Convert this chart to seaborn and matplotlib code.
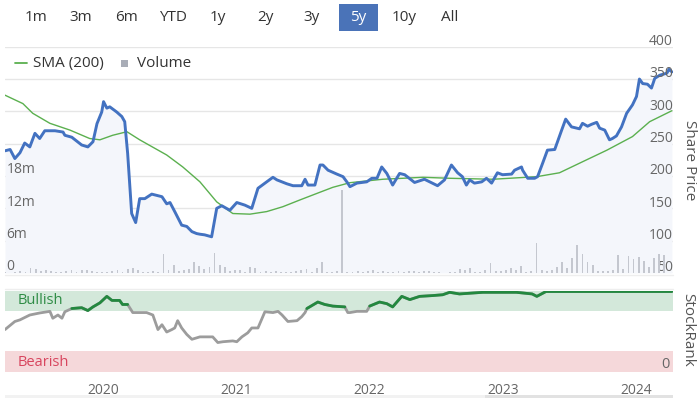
import matplotlib
matplotlib.use("Agg")
import matplotlib.pyplot as plt
import matplotlib.dates as mdates
import matplotlib.transforms as mtransforms
from matplotlib import font_manager
from matplotlib.lines import Line2D
from matplotlib.patches import Rectangle
import numpy as np
import pandas as pd
import seaborn as sns

W, H = 699, 398

range_buttons = ["1m", "3m", "6m", "YTD", "1y", "2y", "3y", "5y", "10y", "All"]
selected_button = "5y"

price_dates = [
    "2019-04-08", "2019-04-22", "2019-05-05", "2019-05-19", "2019-06-01", "2019-06-15", "2019-06-29", "2019-07-12",
    "2019-07-26", "2019-08-23", "2019-09-14", "2019-09-19", "2019-10-08", "2019-11-04", "2019-11-21", "2019-12-05",
    "2019-12-16", "2019-12-29", "2020-01-03", "2020-01-12", "2020-01-20", "2020-02-08", "2020-02-22", "2020-03-01",
    "2020-03-09", "2020-03-20", "2020-03-31", "2020-04-11", "2020-04-25", "2020-05-14", "2020-06-11", "2020-06-24",
    "2020-07-03", "2020-07-16", "2020-08-04", "2020-08-18", "2020-09-01", "2020-09-14", "2020-09-23", "2020-10-06",
    "2020-10-25", "2020-11-08", "2020-11-22", "2020-12-14", "2021-01-02", "2021-01-24", "2021-02-12", "2021-03-01",
    "2021-03-25", "2021-04-11", "2021-04-22", "2021-05-19", "2021-06-05", "2021-06-29", "2021-07-08", "2021-07-16",
    "2021-08-04", "2021-08-18", "2021-08-26", "2021-09-09", "2021-10-03", "2021-10-20", "2021-11-02", "2021-11-08",
    "2021-11-27", "2021-12-24", "2022-01-07", "2022-01-21", "2022-02-03", "2022-02-17", "2022-03-05", "2022-03-24",
    "2022-04-07", "2022-05-04", "2022-05-31", "2022-07-06", "2022-07-25", "2022-08-13", "2022-08-30", "2022-09-12",
    "2022-09-23", "2022-10-02", "2022-10-15", "2022-11-04", "2022-11-17", "2022-12-01", "2022-12-17", "2022-12-31",
    "2023-01-25", "2023-02-02", "2023-02-21", "2023-02-24", "2023-03-10", "2023-03-29", "2023-04-06", "2023-04-20",
    "2023-05-03", "2023-05-23", "2023-06-11", "2023-06-22", "2023-07-08", "2023-07-30", "2023-08-07", "2023-08-21",
    "2023-09-01", "2023-09-15", "2023-09-23", "2023-10-07", "2023-10-20", "2023-10-28", "2023-11-08", "2023-11-22",
    "2023-12-06", "2023-12-22", "2024-01-02", "2024-01-10", "2024-01-19", "2024-02-01", "2024-02-12", "2024-02-21",
    "2024-03-06", "2024-03-25", "2024-03-31", "2024-04-08",
]
price_values = [
    239, 241, 227, 236, 251, 245, 266, 258, 270, 270,
    268, 263, 260, 248, 245, 253, 281, 299, 315, 305,
    307, 299, 292, 284, 235, 142, 128, 165, 165, 172,
    168, 157, 159, 145, 124, 122, 114, 111, 110, 109,
    106, 150, 154, 147, 159, 155, 150, 181, 191, 198,
    194, 188, 185, 185, 195, 186, 186, 217, 217, 209,
    203, 199, 189, 183.5, 189, 191, 196.5, 196.5, 214, 204,
    186, 204, 202, 190, 195, 185, 194, 217, 205, 199,
    186, 194, 189, 191, 196.5, 189, 205, 202, 203, 209,
    214, 209, 196.5, 196.5, 199, 220, 240, 241, 271, 288,
    276, 273, 281.5, 277, 280, 283, 274, 271, 256, 258,
    262, 276, 297, 310, 323, 350, 343, 342, 336, 351,
    356, 359, 365, 361,
]

sma_dates = [
    "2019-04-08", "2019-05-27", "2019-06-23", "2019-08-09", "2019-10-03", "2019-11-26", "2019-12-24", "2020-01-28",
    "2020-03-07", "2020-04-11", "2020-06-24", "2020-08-07", "2020-09-23", "2020-11-08", "2020-12-22", "2021-02-07",
    "2021-03-25", "2021-05-08", "2021-06-24", "2021-08-09", "2021-09-22", "2021-11-08", "2022-02-06", "2022-05-27",
    "2022-08-08", "2022-12-05", "2023-04-04", "2023-06-05", "2023-08-07", "2023-10-13", "2023-12-22", "2024-02-07",
    "2024-04-08",
]
sma_values = [
    325, 312, 297, 281.5, 271, 258, 256, 263, 268.5, 256, 232.5, 214, 191, 160, 142, 141,
    145, 152.5, 163, 173, 182.5, 189.7, 195, 198, 196.5, 195, 199, 205, 222, 240, 261, 284, 301,
]

# fortnightly volume, millions of shares, first bar on volume_start
volume_start = "2019-04-08"
volume_values = [
    0.1, 0.0, 0.1, 0.4, 0.2, 0.9, 0.8, 0.4, 0.5, 0.3,
    0.2, 0.1, 0.4, 0.5, 0.1, 0.6, 0.5, 0.3, 0.2, 0.1,
    0.1, 0.4, 0.5, 0.1, 0.8, 0.9, 0.6, 0.1, 0.2, 0.4,
    0.1, 3.5, 0.6, 1.4, 0.3, 0.6, 0.7, 2.1, 1.3, 0.8,
    1.1, 3.8, 1.5, 1.2, 0.3, 0.6, 0.5, 0.1, 1.1, 0.9,
    0.2, 0.4, 0.1, 0.3, 0.2, 0.1, 0.2, 0.4, 0.6, 0.7,
    0.2, 1.0, 2.1, 0.1, 0.2, 0.3, 15.4, 0.2, 0.1, 0.4,
    0.2, 0.3, 0.6, 0.2, 0.3, 0.2, 0.2, 0.3, 0.2, 0.3,
    0.4, 0.2, 0.3, 0.4, 0.1, 0.2, 0.0, 0.1, 0.2, 0.8,
    0.5, 0.9, 0.1, 0.2, 0.5, 1.8, 0.4, 0.3, 0.6, 0.9,
    0.5, 1.3, 0.2, 0.3, 5.6, 0.5, 0.4, 0.6, 1.2, 2.0,
    1.0, 2.8, 5.2, 3.5, 2.0, 1.4, 0.3, 0.3, 0.4, 0.5,
    3.4, 0.7, 3.2, 2.6, 3.0, 2.2, 1.2, 2.8, 3.6, 3.4,
]

rank_dates = [
    "2019-04-08", "2019-05-05", "2019-05-19", "2019-06-15", "2019-07-12", "2019-08-09", "2019-08-17", "2019-08-31",
    "2019-09-11", "2019-09-19", "2019-10-08", "2019-11-04", "2019-11-21", "2019-12-05", "2019-12-24", "2020-01-12",
    "2020-01-26", "2020-02-16", "2020-02-24", "2020-03-09", "2020-03-23", "2020-04-11", "2020-04-30", "2020-05-17",
    "2020-05-31", "2020-06-11", "2020-06-24", "2020-07-08", "2020-07-16", "2020-07-24", "2020-08-04", "2020-08-18",
    "2020-09-01", "2020-09-23", "2020-10-28", "2020-11-11", "2020-11-25", "2020-12-22", "2021-01-02", "2021-01-16",
    "2021-02-01", "2021-02-12", "2021-03-01", "2021-03-20", "2021-04-11", "2021-04-25", "2021-05-06", "2021-05-22",
    "2021-06-16", "2021-06-29", "2021-07-08", "2021-07-13", "2021-08-12", "2021-08-31", "2021-09-22", "2021-10-25",
    "2021-11-02", "2021-11-08", "2021-11-27", "2021-12-24", "2022-01-01", "2022-01-28", "2022-02-17", "2022-03-05",
    "2022-03-30", "2022-04-21", "2022-05-18", "2022-06-23", "2022-07-20", "2022-08-08", "2022-09-04", "2022-11-07",
    "2023-02-07", "2023-03-22", "2023-04-04", "2023-04-29", "2024-04-08",
]
rank_values = [
    52, 62, 64, 70, 72.5, 74.5, 66, 70, 66, 74,
    78, 79, 75.5, 80, 85, 93, 88, 88, 83, 83,
    73, 73, 73, 70, 52, 58, 49, 52, 54, 63,
    54, 46, 40, 43, 43, 36, 37, 38, 37, 43,
    48, 54, 54, 74, 73, 74.5, 70, 62, 63, 68,
    73, 78, 86, 83, 81, 80, 73, 73, 74.5, 74.5,
    81, 86, 84, 80, 93, 89, 93, 94, 95, 98,
    96, 98, 98, 96, 93, 99, 99,
]

price_ticks = [50, 100, 150, 200, 250, 300, 350, 400]
volume_ticks = [0, 6, 12, 18]
bullish_level = 75

BLUE = "#4372c1"
GREEN_SMA = "#5bb04f"
VOL_GREY = "#c4c7cf"
GRID = "#e6e6e6"
LABEL = "#666666"


def fx(x):
    return x / W


def fy(y):
    return 1 - y / H


sns.set_style("white")
plt.rcParams["font.family"] = ["Open Sans", "DejaVu Sans"]
available = {f.name for f in font_manager.fontManager.ttflist}
narrow = "Liberation Sans Narrow" if "Liberation Sans Narrow" in available else "Open Sans"

price_dt = pd.to_datetime(price_dates)
sma_dt = pd.to_datetime(sma_dates)
rank_dt = pd.to_datetime(rank_dates)
vol_dt = pd.date_range(volume_start, periods=len(volume_values), freq="14D")
x_range = (pd.Timestamp("2019-04-08"), pd.Timestamp("2024-04-11"))

fig = plt.figure(figsize=(W / 100, H / 100), dpi=100)

# --- price panel ---
ax = fig.add_axes([fx(5), fy(273), 668 / W, (273 - 46.7) / H])
ax.set_xlim(*x_range)
ax.set_ylim(50, 400)
for v in price_ticks:
    ax.axhline(v, color=GRID, lw=1, zorder=0)
ax.fill_between(price_dt, price_values, 50, color="#f4f6fb", lw=0, zorder=1)
sns.lineplot(x=sma_dt, y=sma_values, ax=ax, color=GREEN_SMA, lw=1.0, zorder=3)
sns.lineplot(x=price_dt, y=price_values, ax=ax, color=BLUE, lw=2.1, zorder=4)
ax.set(xlabel="", ylabel="", xticks=[], yticks=[])
sns.despine(ax=ax, left=True, bottom=True)

right_tr = mtransforms.blended_transform_factory(ax.transAxes, ax.transData)
for v in price_ticks:
    ax.annotate(str(v), (1.0, v), xycoords=right_tr, xytext=(0, 1.2), textcoords="offset points",
                ha="right", va="baseline", fontsize=10, color=LABEL, zorder=6)

ax_vol = ax.twinx()
ax_vol.set_ylim(0, 42)
ax_vol.bar(vol_dt, volume_values, width=5, color=VOL_GREY, lw=0, zorder=2)
ax_vol.set_xlim(*x_range)
ax_vol.set(yticks=[], ylabel="")
sns.despine(ax=ax_vol, left=True, bottom=True, right=True)
left_tr = mtransforms.blended_transform_factory(ax_vol.transAxes, ax_vol.transData)
for v in volume_ticks:
    ax_vol.annotate("0" if v == 0 else f"{v}m", (0.0, v), xycoords=left_tr, xytext=(1, 2),
                    textcoords="offset points", ha="left", va="baseline", fontsize=10, color=LABEL)

fig.text(fx(690), fy(160), "Share Price", rotation=270, ha="center", va="center", fontsize=11, color="#555555")

# --- stockrank panel ---
ax_r = fig.add_axes([fx(5), fy(371.7), 668 / W, 81 / H])
ax_r.set_xlim(*x_range)
ax_r.set_ylim(0, 100)
ax_r.axhspan(bullish_level, 100, color="#d3e8da", lw=0, zorder=0)
ax_r.axhspan(0, 25, color="#f5d8da", lw=0, zorder=0)
sns.lineplot(x=rank_dt, y=rank_values, ax=ax_r, color="#9c9c9c", lw=2.0, zorder=2)
rank_arr = np.array(rank_values, dtype=float)
green_part = np.where(rank_arr >= bullish_level, rank_arr, np.nan)
ax_r.plot(rank_dt, green_part, color="#23883f", lw=2.0, zorder=3)
ax_r.set(xlabel="", ylabel="", yticks=[])
sns.despine(ax=ax_r, left=True, bottom=True)
ax_r.xaxis.set_major_locator(mdates.YearLocator())
ax_r.xaxis.set_major_formatter(mdates.DateFormatter("%Y"))
ax_r.tick_params(axis="x", length=6, width=1, color="#dddddd", labelcolor=LABEL, labelsize=10,
                 pad=1.8, labelfontfamily=narrow)

fig.text(fx(18), fy(301), "Bullish", ha="left", va="center", fontsize=10.5, color="#2e8c45", family=narrow)
fig.text(fx(18), fy(362), "Bearish", ha="left", va="center", fontsize=10.5, color="#d8455e", family=narrow)
fig.text(fx(670), fy(364), "0", ha="right", va="center", fontsize=10.5, color=LABEL, family=narrow)
fig.text(fx(688), fy(330), "StockRank", rotation=270, ha="center", va="center", fontsize=11, color="#555555")

# thin panel borders
fig.add_artist(Line2D([fx(5), fx(673)], [fy(275), fy(275)], color="#eeeeee", lw=1))
fig.add_artist(Line2D([fx(5), fx(673)], [fy(289.3), fy(289.3)], color="#eeeeee", lw=1))

# --- legend ---
fig.add_artist(Line2D([fx(15), fx(27)], [fy(63.3), fy(63.3)], color=GREEN_SMA, lw=1.3))
fig.text(fx(33), fy(63.3), "SMA (200)", ha="left", va="center", fontsize=11, color="#333333")
fig.add_artist(Rectangle((fx(120.5), fy(67)), 7 / W, 7 / H, transform=fig.transFigure, color="#a9adb7", lw=0))
fig.text(fx(137), fy(63.3), "Volume", ha="left", va="center", fontsize=11, color="#333333")

# --- range selector ---
button_x = [36, 81, 127, 173, 218, 265, 312, 358, 404, 450]
for label, cx in zip(range_buttons, button_x):
    if label == selected_button:
        fig.add_artist(Rectangle((fx(cx - 19.5), fy(31)), 39 / W, 27 / H, transform=fig.transFigure,
                                 color="#4a73b8", lw=0))
    fig.text(fx(cx), fy(17.5), label, ha="center", va="center", fontsize=11,
             color="white" if label == selected_button else "#333333")

# navigator scrollbar strip
fig.add_artist(Rectangle((fx(5), fy(398)), 668 / W, 3 / H, transform=fig.transFigure, color="#f2f2f2", lw=0))
fig.add_artist(Rectangle((fx(485), fy(398)), 188 / W, 3 / H, transform=fig.transFigure, color="#e2e2e2", lw=0))

fig.savefig("out.png", dpi=100)
plt.close(fig)
